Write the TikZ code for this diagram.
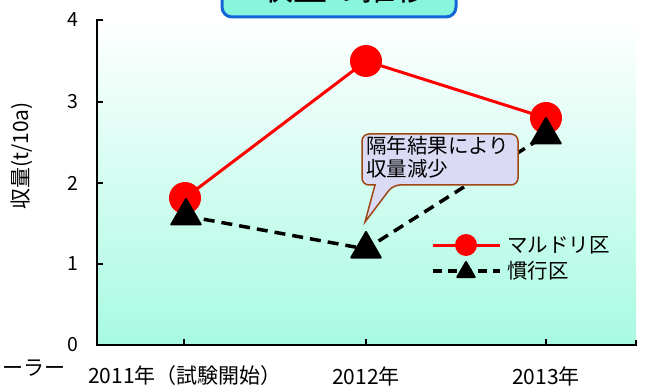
\documentclass[tikz,border=0pt]{standalone}
\usepackage{fontspec}
\setmainfont{Noto Sans CJK JP}
\usetikzlibrary{shapes.geometric}
\definecolor{aqua}{RGB}{168,250,226}
\definecolor{titlefill}{RGB}{136,246,220}
\definecolor{titleborder}{RGB}{20,102,216}
\definecolor{calloutfill}{RGB}{218,218,244}
\definecolor{calloutborder}{RGB}{160,70,20}
\tikzset{
  lbl/.style={inner sep=0pt, font=\fontsize{19.5}{21}\selectfont},
  axisline/.style={line width=2pt, black},
  redser/.style={line width=3pt, red},
  blkser/.style={line width=3.5pt, black, dash pattern=on 11pt off 7pt},
  dotmark/.style={circle, fill=red, inner sep=0pt, minimum size=#1},
  trimark/.style={regular polygon, regular polygon sides=3, fill=black, draw=black, line width=2pt, line join=round, inner sep=0pt, minimum size=#1},
}
\begin{document}
\begin{tikzpicture}[x=1pt, y=-1pt]
\useasboundingbox (0,0) rectangle (645,390);
\clip (0,0) rectangle (645,390);
% plot background
\shade[top color=white, bottom color=aqua] (97,20) rectangle (636,345);
% title box (cut off at top)
\node[draw=titleborder, fill=titlefill, line width=3pt, rounded corners=10pt,
      minimum width=234pt, minimum height=50pt, inner sep=0pt] (title) at (339,-8) {};
\node[inner sep=0pt, font=\fontsize{34}{36}\selectfont, anchor=base] (titletext) at (344,0.5) {収量の推移};
% axes
\draw[axisline] (103,20) -- (97,20) -- (97,345) -- (636,345) -- (636,340);
\foreach \yy in {102,183,264} \draw[axisline] (97,\yy) -- (103,\yy);
\foreach \xx in {184,366,546} \draw[axisline] (\xx,345) -- (\xx,339);
% y tick labels
\node[lbl, anchor=east] (y0) at (79,345) {0};
\node[lbl, anchor=east] (y1) at (79,264) {1};
\node[lbl, anchor=east] (y2) at (79,183) {2};
\node[lbl, anchor=east] (y3) at (79,102) {3};
\node[lbl, anchor=east] (y4) at (79,20) {4};
\node[lbl, rotate=90, font=\fontsize{21}{23}\selectfont] (ylabel) at (22,156) {収量(t/10a)};
% x labels
\node[lbl, font=\fontsize{21}{23}\selectfont] (x1) at (185,376) {2011年（試験開始）};
\node[lbl, font=\fontsize{21}{23}\selectfont] (x2) at (366,376) {2012年};
\node[lbl, font=\fontsize{21}{23}\selectfont] (x3) at (546,376) {2013年};
\node[lbl, anchor=east, font=\fontsize{21}{23}\selectfont] (cut) at (66,368) {ローラー};
% data coordinates
\coordinate (m1) at (185,198);
\coordinate (m2) at (366,61);
\coordinate (m3) at (546,118);
\coordinate (c1) at (186,216);
\coordinate (c2) at (366,249);
\coordinate (c3) at (546,135);
% red series
\draw[redser] (m1) -- (m2) -- (m3);
\node[dotmark=32pt] (dm1) at (m1) {};
\node[dotmark=32pt] (dm2) at (m2) {};
\node[dotmark=32pt] (dm3) at (m3) {};
% black series
\draw[blkser] (c1) -- (c2) -- (c3);
\node[trimark=34pt] (tc1) at (c1) {};
\node[trimark=34pt] (tc2) at (c2) {};
\node[trimark=34pt] (tc3) at (c3) {};
% callout
\draw[draw=calloutborder, fill=calloutfill, line width=1.5pt, rounded corners=7pt]
  (362,134) -- (518,134) -- (518,185) -- (393,185) [sharp corners] -- (365,222) -- (375,185) [rounded corners=7pt] -- (362,185) -- cycle;
\node[lbl, align=left, anchor=north west, font=\fontsize{20.5}{23}\selectfont] (callout) at (366,136) {隔年結果により\\収量減少};
% legend
\coordinate (la1) at (433,245);
\coordinate (lb1) at (500,245);
\coordinate (la2) at (433,271);
\coordinate (lb2) at (500,271);
\draw[redser] (la1) -- (lb1);
\node[dotmark=22pt] (lm1) at (466,245) {};
\draw[blkser, dash pattern=on 9pt off 6pt] (la2) -- (lb2);
\node[trimark=20pt] (lm2) at (466,272) {};
\node[lbl, anchor=west, font=\fontsize{20.5}{22}\selectfont] (leg1) at (507,245) {マルドリ区};
\node[lbl, anchor=west, font=\fontsize{20.5}{22}\selectfont] (leg2) at (507,271) {慣行区};
\end{tikzpicture}
\end{document}
